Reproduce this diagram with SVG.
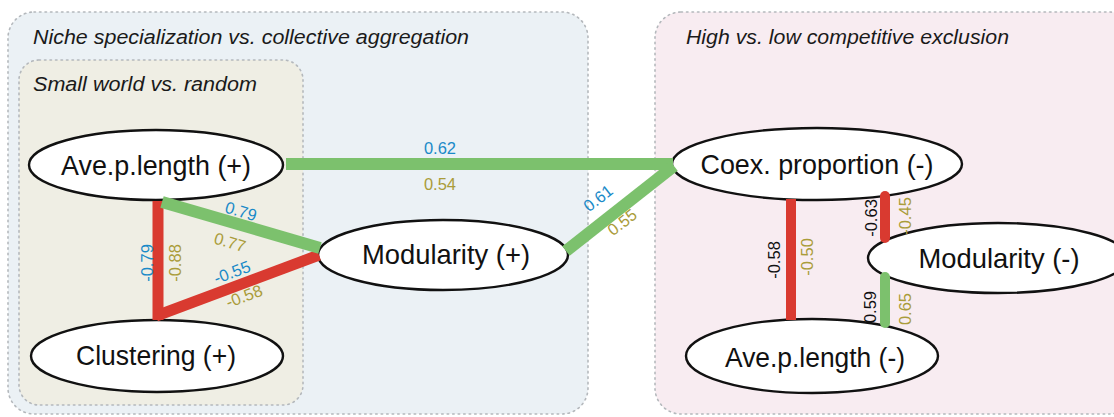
<svg xmlns="http://www.w3.org/2000/svg" width="1114" height="417" viewBox="0 0 1114 417">
<style>
.panel{stroke:#b4b8bc;stroke-width:1.6;stroke-dasharray:1.5 4;stroke-linecap:round}
.ptitle{font-family:"Liberation Sans",Arial,sans-serif;font-style:italic;font-size:20px;fill:#1a1a1a}
.node ellipse{fill:#fff;stroke:#111;stroke-width:2.4}
.node text{font-family:"Liberation Sans",Arial,sans-serif;font-size:27.5px;fill:#111;text-anchor:middle}
.g{stroke:#7cc16d;fill:none}
.r{stroke:#d93a30;fill:none}
.lab{font-family:"Liberation Sans",Arial,sans-serif;font-size:16.5px;text-anchor:middle;dominant-baseline:central}
.b{fill:#1a8ac8}
.o{fill:#aa9c3a}
.k{fill:#111}
</style>
<rect width="1114" height="417" fill="#ffffff"/>
<g id="panel-niche">
<rect class="panel" x="8" y="12" width="580" height="402" rx="26" fill="#ebf1f5"/>
<text class="ptitle" x="33" y="44" textLength="436" lengthAdjust="spacingAndGlyphs">Niche specialization vs. collective aggregation</text>
</g>
<g id="panel-smallworld">
<rect class="panel" x="19" y="60" width="284" height="345" rx="20" fill="#efeee4"/>
<text class="ptitle" x="33" y="91" textLength="224" lengthAdjust="spacingAndGlyphs">Small world vs. random</text>
</g>
<g id="panel-exclusion">
<rect class="panel" x="655" y="12" width="480" height="402" rx="26" fill="#f8ecf1"/>
<text class="ptitle" x="686" y="44" textLength="323" lengthAdjust="spacingAndGlyphs">High vs. low competitive exclusion</text>
</g>
<g id="node-avepl-plus" class="node">
<ellipse cx="156" cy="165" rx="127" ry="35"/>
<text x="156" y="175" textLength="190" lengthAdjust="spacingAndGlyphs">Ave.p.length (+)</text>
</g>
<g id="node-clustering-plus" class="node">
<ellipse cx="157" cy="356" rx="126" ry="36"/>
<text x="156" y="365" textLength="160" lengthAdjust="spacingAndGlyphs">Clustering (+)</text>
</g>
<g id="node-modularity-plus" class="node">
<ellipse cx="443" cy="255" rx="125" ry="35"/>
<text x="446" y="264" textLength="168" lengthAdjust="spacingAndGlyphs">Modularity (+)</text>
</g>
<g id="node-coex-minus" class="node">
<ellipse cx="817" cy="164" rx="145" ry="36"/>
<text x="817" y="174" textLength="233" lengthAdjust="spacingAndGlyphs">Coex. proportion (-)</text>
</g>
<g id="node-modularity-minus" class="node">
<ellipse cx="998" cy="258" rx="130" ry="35"/>
<text x="999" y="268" textLength="161" lengthAdjust="spacingAndGlyphs">Modularity (-)</text>
</g>
<g id="node-avepl-minus" class="node">
<ellipse cx="812" cy="356" rx="126" ry="37"/>
<text x="815" y="367" textLength="180" lengthAdjust="spacingAndGlyphs">Ave.p.length (-)</text>
</g>
<g id="connectors">
<line class="g" x1="286" y1="164" x2="673" y2="164" stroke-width="12"/>
<line class="g" x1="566" y1="251" x2="674" y2="166" stroke-width="12"/>
<line class="r" x1="158" y1="201" x2="158" y2="320" stroke-width="11"/>
<line class="r" x1="156" y1="316" x2="319" y2="255" stroke-width="11"/>
<line class="g" x1="162" y1="202" x2="320" y2="248" stroke-width="12"/>
<line class="r" x1="791" y1="199" x2="791" y2="320" stroke-width="10"/>
<line class="r" x1="885" y1="196" x2="885" y2="238" stroke-width="10" stroke-linecap="round"/>
<line class="g" x1="885" y1="277" x2="885" y2="323" stroke-width="10" stroke-linecap="round"/>
<text class="lab b" x="440" y="148">0.62</text>
<text class="lab o" x="440" y="184">0.54</text>
<text class="lab b" transform="translate(598,198) rotate(-38)">0.61</text>
<text class="lab o" transform="translate(622,222) rotate(-38)">0.55</text>
<text class="lab b" transform="translate(241,211) rotate(16)">0.79</text>
<text class="lab o" transform="translate(230,242) rotate(16)">0.77</text>
<text class="lab b" transform="translate(147,263) rotate(-90)">-0.79</text>
<text class="lab o" transform="translate(175,263) rotate(-90)">-0.88</text>
<text class="lab b" transform="translate(232,272) rotate(-21)">-0.55</text>
<text class="lab o" transform="translate(244,296) rotate(-21)">-0.58</text>
<text class="lab k" transform="translate(774,260) rotate(-90)">-0.58</text>
<text class="lab o" transform="translate(807,257) rotate(-90)">-0.50</text>
<text class="lab k" transform="translate(871,218) rotate(-90)">-0.63</text>
<text class="lab o" transform="translate(905,216) rotate(-90)">-0.45</text>
<text class="lab k" transform="translate(870,307) rotate(-90)">0.59</text>
<text class="lab o" transform="translate(905,309) rotate(-90)">0.65</text>
</g>
</svg>
